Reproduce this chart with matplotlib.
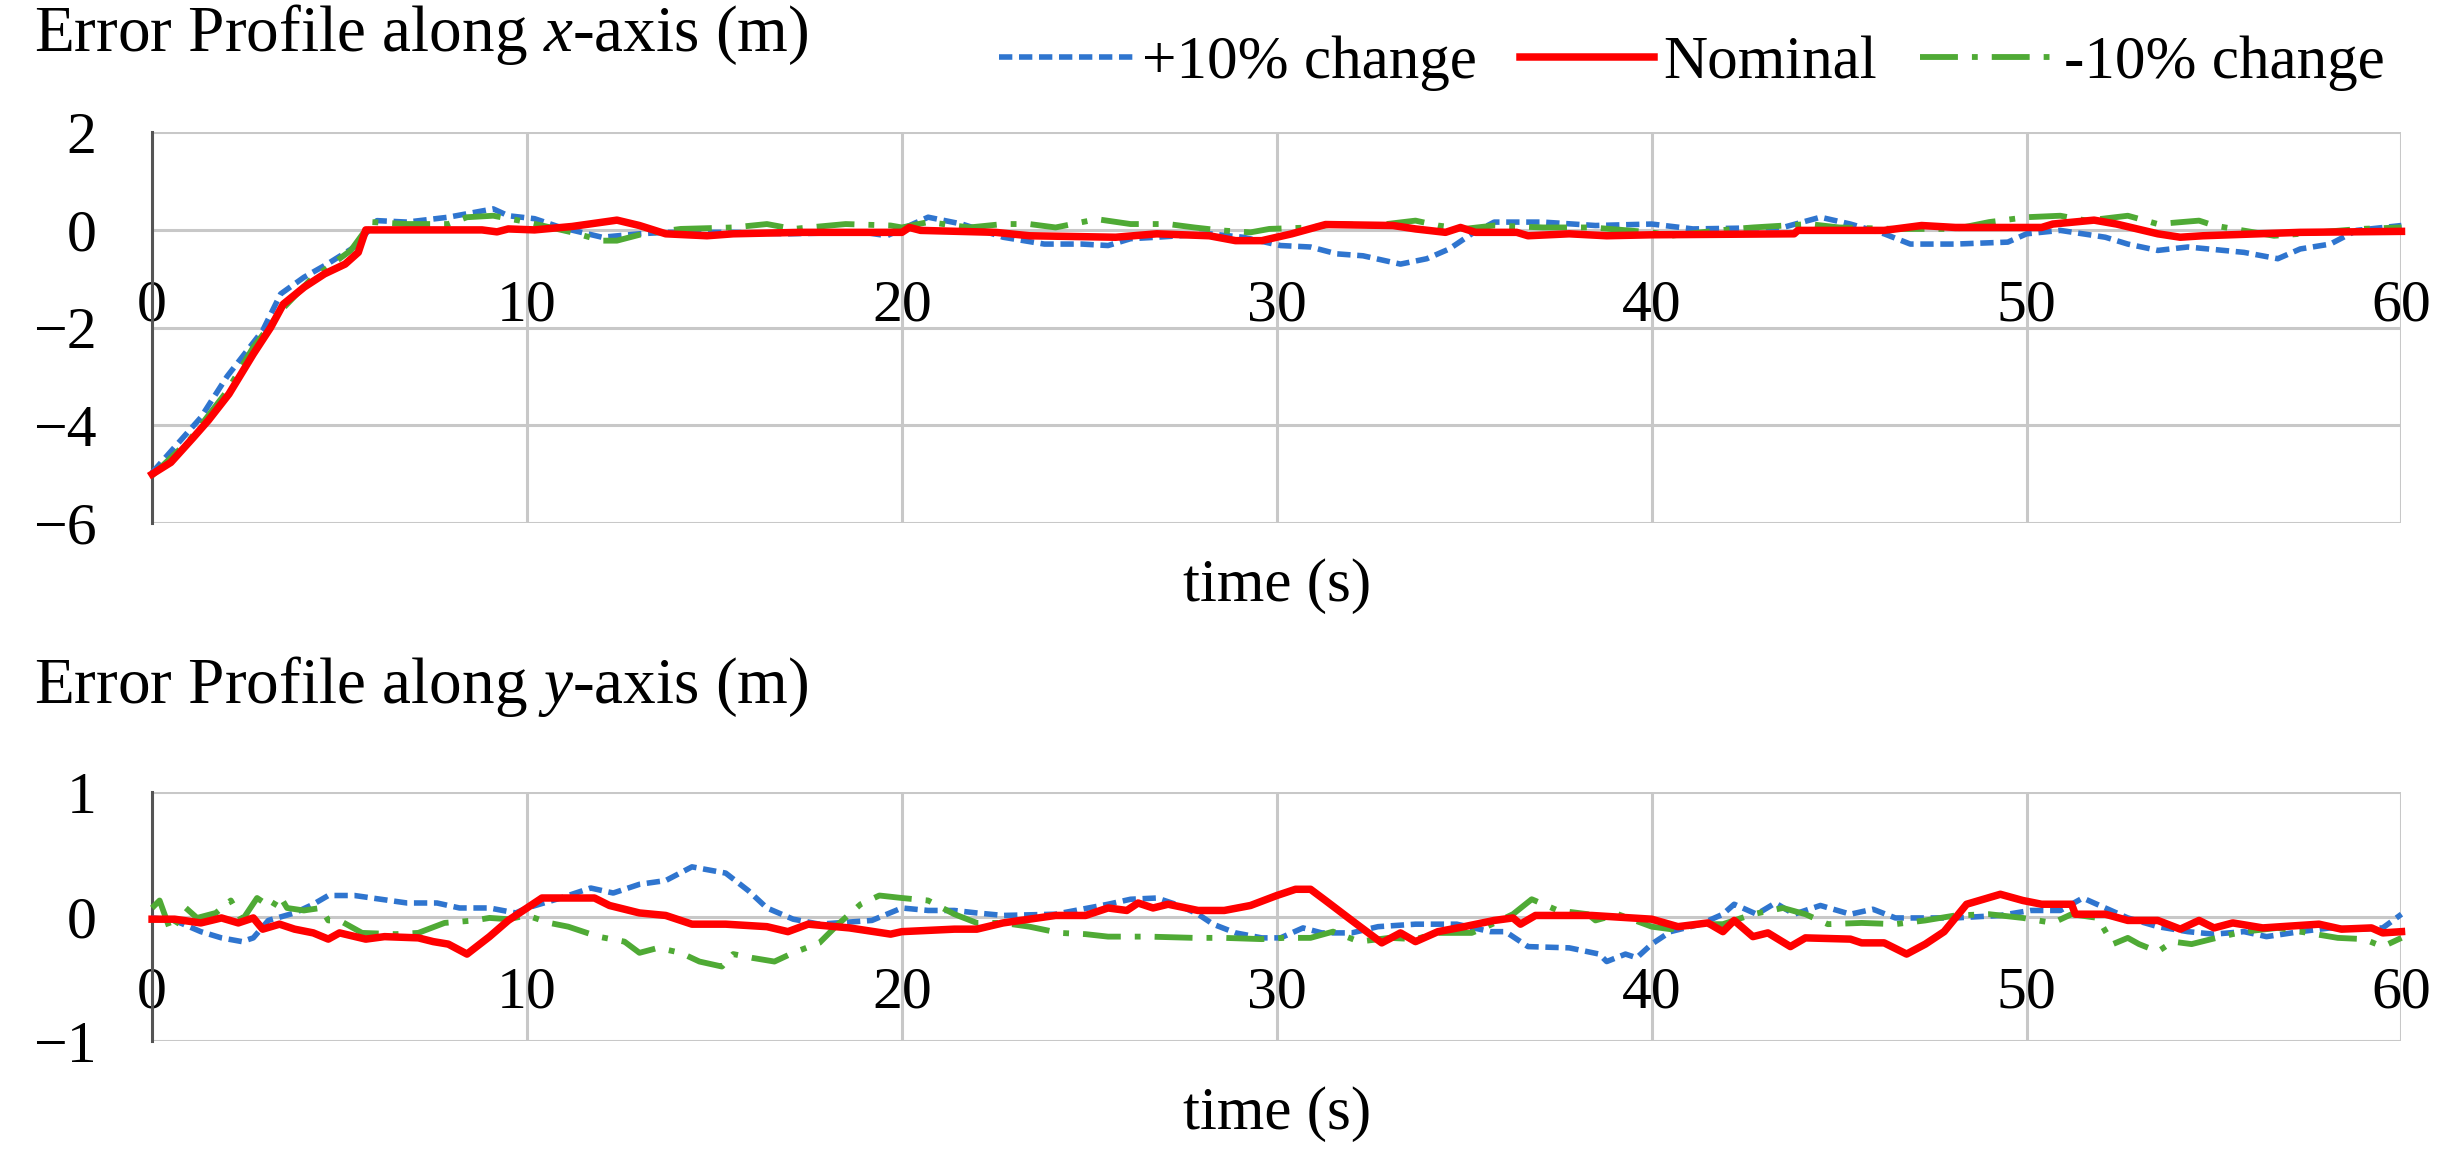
import matplotlib
matplotlib.use("Agg")
import matplotlib.pyplot as plt

plt.rcParams['font.family'] = ['Liberation Serif', 'DejaVu Serif']
plt.rcParams['mathtext.fontset'] = 'custom'
plt.rcParams['mathtext.rm'] = 'Liberation Serif'
plt.rcParams['mathtext.it'] = 'Liberation Serif:italic'

# ---------------- data: x-axis error profile ----------------
x_nom_t = [0, 0.5, 1.1, 1.5, 2.05, 2.7, 3.16, 3.5, 4.06, 4.6, 5.15, 5.5, 5.7, 8.8, 9.2, 9.5, 10.2, 11.2, 12.4, 13.0, 13.7,
           14.8, 15.5, 17.3, 20.0, 20.2, 20.5, 22.5, 23.4, 25.7, 26.8, 28.2, 28.9, 29.6, 30.4, 31.3, 33.1, 33.7, 34.5,
           34.9, 35.3, 36.4, 36.7, 37.8, 38.8, 40.0, 43.8, 43.9, 46.2, 47.2, 48.1, 50.4, 50.7, 51.8, 52.4, 53.5, 54.1,
           54.7, 57.3, 60.0]
x_nom_v = [-5.0, -4.76, -4.25, -3.9, -3.36, -2.54, -2.0, -1.52, -1.17, -0.9, -0.7, -0.46, 0.0, 0.0, -0.04, 0.02, 0.0, 0.07,
           0.2, 0.09, -0.08, -0.12, -0.08, -0.05, -0.05, 0.05, -0.01, -0.05, -0.12, -0.15, -0.08, -0.12, -0.22, -0.22,
           -0.08, 0.11, 0.09, 0.02, -0.05, 0.05, -0.05, -0.05, -0.12, -0.08, -0.12, -0.1, -0.08, -0.01, -0.01, 0.09,
           0.05, 0.05, 0.12, 0.2, 0.12, -0.08, -0.15, -0.12, -0.05, -0.03]

x_plus_t = [0, 1.3, 2.0, 2.95, 3.43, 4.05, 4.67, 5.4, 6.0, 6.8, 7.9, 9.1, 9.5, 10.2, 10.9, 12.0, 13.0, 13.7, 15.5, 16.96,
            19.0, 19.6, 20.7, 21.6, 22.7, 23.8, 24.8, 25.5, 26.1, 26.8, 28.2, 29.1, 30.1, 30.9, 31.6, 32.3, 33.3, 34.0,
            34.6, 35.2, 35.8, 37.1, 38.5, 40.0, 41.1, 43.5, 44.5, 45.3, 46.2, 46.9, 48.1, 49.5, 50.0, 50.9, 51.5, 52.1,
            52.7, 53.5, 54.3, 55.8, 56.7, 57.3, 58.1, 58.8, 60.0]
x_plus_v = [-4.97, -3.84, -3.0, -2.06, -1.31, -0.97, -0.7, -0.35, 0.19, 0.16, 0.26, 0.43, 0.29, 0.23, 0.05, -0.15, -0.08,
            -0.05, -0.05, -0.08, -0.05, -0.12, 0.26, 0.12, -0.15, -0.29, -0.29, -0.32, -0.18, -0.15, -0.08, -0.15, -0.32,
            -0.35, -0.49, -0.53, -0.7, -0.59, -0.39, -0.08, 0.16, 0.16, 0.09, 0.12, 0.02, 0.05, 0.26, 0.12, -0.08, -0.29,
            -0.29, -0.25, -0.08, -0.01, -0.08, -0.15, -0.29, -0.42, -0.35, -0.46, -0.59, -0.39, -0.29, -0.01, 0.09]

x_minus_t = [0, 1.0, 2.0, 2.7, 3.5, 4.2, 5.3, 5.85, 6.8, 7.9, 8.4, 9.1, 9.8, 10.4, 11.2, 12.0, 12.4, 13.1, 14.1, 15.5,
             16.4, 17.1, 18.5, 19.7, 20.0, 20.7, 21.8, 22.7, 23.4, 24.1, 25.2, 26.1, 27.1, 27.8, 28.5, 29.3, 29.8, 30.9,
             31.6, 32.6, 33.7, 34.3, 35.0, 35.8, 37.1, 38.4, 40.0, 40.5, 41.3, 42.2, 42.7, 44.2, 45.0, 46.5, 48.1, 49.0,
             50.0, 50.9, 51.6, 52.7, 53.5, 54.6, 55.0, 56.6, 57.3, 58.9, 60.0]
x_minus_v = [-5.03, -4.3, -3.3, -2.4, -1.6, -1.04, -0.42, 0.16, 0.12, 0.12, 0.26, 0.29, 0.19, 0.09, -0.05, -0.22, -0.22,
             -0.08, 0.02, 0.05, 0.12, 0.02, 0.12, 0.09, 0.05, 0.16, 0.05, 0.12, 0.12, 0.05, 0.22, 0.12, 0.12, 0.05,
             -0.01, -0.05, 0.02, 0.05, 0.12, 0.09, 0.19, 0.09, 0.02, 0.09, 0.05, 0.05, -0.05, -0.12, -0.05, 0.02, 0.05,
             0.12, 0.05, 0.02, 0.02, 0.16, 0.26, 0.29, 0.19, 0.29, 0.12, 0.19, 0.09, -0.12, -0.08, 0.02, 0.05]

# ---------------- data: y-axis error profile ----------------
y_nom_t = [0, 0.6, 1.3, 1.85, 2.3, 2.7, 2.95, 3.4, 3.8, 4.3, 4.7, 5.0, 5.7, 6.2, 7.1, 7.5, 7.9, 8.4, 9.0, 9.5, 10.0, 10.4,
           11.3, 11.8, 12.2, 13.0, 13.7, 14.4, 15.3, 16.4, 16.96, 17.5, 18.6, 19.7, 20.0, 21.4, 22.0, 22.7, 23.4, 24.1,
           24.9, 25.5, 26.0, 26.3, 26.7, 27.1, 27.9, 28.6, 29.3, 30.0, 30.5, 30.9, 31.3, 32.0, 32.8, 33.3, 33.7, 34.3,
           35.0, 35.8, 36.3, 36.5, 36.9, 38.4, 40.0, 40.7, 41.5, 41.9, 42.2, 42.7, 43.1, 43.7, 44.1, 45.3, 45.6, 46.2,
           46.8, 47.3, 47.8, 48.4, 49.3, 49.9, 50.4, 51.2, 51.3, 52.1, 52.7, 53.5, 54.1, 54.6, 55.0, 55.5, 56.3, 57.8,
           58.4, 59.2, 59.5, 60.0]
y_nom_v = [-0.02, -0.02, -0.05, -0.01, -0.05, -0.01, -0.1, -0.06, -0.1, -0.13, -0.18, -0.13, -0.18, -0.16, -0.17, -0.2,
           -0.22, -0.3, -0.16, -0.03, 0.07, 0.15, 0.15, 0.15, 0.09, 0.03, 0.01, -0.06, -0.06, -0.08, -0.12, -0.06, -0.09,
           -0.14, -0.12, -0.1, -0.1, -0.05, -0.02, 0.01, 0.01, 0.07, 0.05, 0.11, 0.07, 0.1, 0.05, 0.05, 0.09, 0.17,
           0.22, 0.22, 0.13, -0.03, -0.21, -0.13, -0.2, -0.12, -0.08, -0.03, -0.01, -0.06, 0.01, 0.01, -0.02, -0.08,
           -0.05, -0.12, -0.03, -0.16, -0.13, -0.24, -0.17, -0.18, -0.21, -0.21, -0.3, -0.22, -0.12, 0.1, 0.18, 0.13,
           0.1, 0.1, 0.02, 0.02, -0.03, -0.03, -0.1, -0.03, -0.09, -0.05, -0.09, -0.06, -0.1, -0.09, -0.13, -0.12]

y_plus_t = [0, 0.6, 1.3, 1.85, 2.4, 2.7, 3.1, 3.8, 4.3, 4.7, 5.4, 6.8, 7.6, 8.2, 9.0, 9.7, 10.0, 10.9, 11.7, 12.3, 13.0,
            13.7, 14.4, 15.3, 15.9, 16.4, 17.1, 17.8, 19.2, 20.0, 20.7, 21.4, 22.0, 22.7, 24.1, 25.5, 26.1, 26.8, 27.4,
            27.9, 28.3, 28.9, 29.6, 30.1, 30.7, 31.2, 32.0, 32.7, 33.7, 34.8, 35.7, 36.1, 36.7, 37.8, 38.6, 38.8, 39.3,
            39.6, 40.0, 40.5, 41.3, 41.9, 42.2, 42.8, 43.3, 43.8, 44.5, 45.3, 45.9, 46.5, 48.1, 49.3, 50.1, 50.9, 51.5,
            52.1, 52.7, 53.5, 54.3, 55.0, 55.8, 56.4, 57.3, 58.1, 58.9, 59.5, 60.0]
y_plus_v = [-0.01, -0.03, -0.12, -0.17, -0.2, -0.17, -0.03, 0.03, 0.1, 0.17, 0.17, 0.11, 0.11, 0.07, 0.07, 0.03, 0.07,
            0.15, 0.23, 0.19, 0.26, 0.29, 0.4, 0.35, 0.21, 0.07, -0.02, -0.06, -0.03, 0.07, 0.05, 0.05, 0.03, 0.01,
            0.02, 0.1, 0.14, 0.15, 0.09, 0.02, -0.06, -0.13, -0.17, -0.17, -0.09, -0.13, -0.13, -0.08, -0.06, -0.06,
            -0.12, -0.12, -0.24, -0.25, -0.3, -0.36, -0.3, -0.33, -0.22, -0.12, -0.06, 0.02, 0.1, 0.02, 0.11, 0.02,
            0.09, 0.02, 0.06, -0.01, -0.01, 0.01, 0.05, 0.05, 0.15, 0.07, -0.01, -0.08, -0.12, -0.14, -0.12, -0.16,
            -0.12, -0.09, -0.1, -0.09, 0.02]

y_minus_t = [0, 0.2, 0.5, 0.9, 1.2, 1.7, 2.1, 2.4, 2.8, 3.2, 3.4, 3.6, 4.05, 4.5, 4.7, 5.0, 5.6, 6.5, 7.1, 7.8, 8.6, 9.0,
             9.5, 10.0, 10.6, 11.1, 11.9, 12.6, 13.0, 13.5, 14.1, 14.6, 15.2, 15.5, 16.0, 16.6, 17.1, 17.8, 18.3, 18.9,
             19.4, 20.0, 20.7, 21.4, 22.0, 22.7, 23.4, 24.2, 24.9, 25.5, 26.6, 27.8, 28.6, 29.6, 30.2, 30.9, 31.5, 32.2,
             33.0, 33.7, 34.3, 35.2, 35.6, 36.3, 36.8, 37.5, 38.3, 38.5, 39.1, 40.0, 40.5, 41.3, 41.9, 42.7, 43.5, 44.1,
             44.7, 45.6, 46.5, 47.3, 48.1, 49.0, 49.9, 50.7, 51.2, 51.9, 52.3, 52.7, 53.0, 53.5, 53.9, 54.4, 55.2, 55.8,
             56.7, 57.3, 58.3, 59.0, 59.5, 60.0]
y_minus_v = [0.07, 0.13, -0.12, 0.07, -0.01, 0.03, 0.13, -0.03, 0.15, 0.07, 0.17, 0.07, 0.05, 0.07, -0.03, -0.03, -0.13,
             -0.14, -0.13, -0.05, -0.03, -0.01, -0.02, 0.01, -0.05, -0.08, -0.16, -0.2, -0.29, -0.25, -0.29, -0.36, -0.4,
             -0.3, -0.33, -0.36, -0.29, -0.21, -0.06, 0.1, 0.17, 0.15, 0.13, 0.02, -0.05, -0.05, -0.08, -0.13, -0.14,
             -0.16, -0.16, -0.17, -0.17, -0.18, -0.17, -0.17, -0.12, -0.2, -0.17, -0.18, -0.13, -0.13, -0.08, 0.02, 0.14,
             0.05, 0.02, -0.03, 0.02, -0.08, -0.1, -0.06, -0.06, 0.02, 0.07, 0.02, -0.06, -0.05, -0.06, -0.03, 0.01,
             0.02, -0.01, -0.05, 0.02, -0.01, -0.22, -0.17, -0.22, -0.28, -0.2, -0.22, -0.16, -0.12, -0.09, -0.12,
             -0.17, -0.18, -0.24, -0.17]

x_ticks = [0, 10, 20, 30, 40, 50, 60]
top_yticks = [-6, -4, -2, 0, 2]
bot_yticks = [-1, 0, 1]
series_labels = ['+10% change', 'Nominal', '-10% change']

# ---------------- styles ----------------
BLUE = '#2F75CF'
RED = '#FF0000'
GREEN = '#4FAA35'
GRID = '#C8C8C8'
FS_TICK = 43
FS_TITLE = 47
FS_LAB = 44

fig = plt.figure(figsize=(24.53, 11.70), dpi=100)
ax1 = fig.add_axes([0.062, 0.553, 0.917, 0.334])
ax2 = fig.add_axes([0.062, 0.110, 0.917, 0.213])


def style(ax, yticks):
    ax.set_xlim(0, 60)
    ax.set_ylim(yticks[0], yticks[-1])
    ax.set_xticks(x_ticks)
    ax.set_yticks(yticks)
    ax.grid(True, color=GRID, linewidth=2.2)
    ax.set_axisbelow(True)
    for s in ['top', 'right']:
        ax.spines[s].set_visible(False)
    # horizontal axis crosses at zero, labels hang below it
    ax.spines['bottom'].set_position(('data', 0))
    ax.spines['bottom'].set_visible(False)
    ax.spines['left'].set_color('#555555')
    ax.spines['left'].set_linewidth(2.2)
    ax.spines['left'].set_zorder(1.5)
    ax.tick_params(axis='y', length=0, pad=40, labelsize=FS_TICK)
    ax.tick_params(axis='x', length=0, pad=36, labelsize=FS_TICK)


style(ax1, top_yticks)
style(ax2, bot_yticks)

lw_b, lw_r, lw_g = 4.0, 5.4, 4.2
dash_b = (0, (2.4, 1.2))
dash_g = (0, (6.5, 2.4, 1.0, 2.4))

for ax, (pt, pv), (nt, nv), (mt, mv) in [
        (ax1, (x_plus_t, x_plus_v), (x_nom_t, x_nom_v), (x_minus_t, x_minus_v)),
        (ax2, (y_plus_t, y_plus_v), (y_nom_t, y_nom_v), (y_minus_t, y_minus_v))]:
    ax.plot(pt, pv, color=BLUE, lw=lw_b, linestyle=dash_b, label=series_labels[0], zorder=3, clip_on=False)
    ax.plot(nt, nv, color=RED, lw=lw_r, linestyle='-', label=series_labels[1], zorder=4, clip_on=False)
    ax.plot(mt, mv, color=GREEN, lw=lw_g, linestyle=dash_g, label=series_labels[2], zorder=3, clip_on=False)

fig.text(0.014, 0.956, 'Error Profile along $x$-axis (m)', fontsize=FS_TITLE, ha='left', va='baseline')
fig.text(0.014, 0.399, 'Error Profile along $y$-axis (m)', fontsize=FS_TITLE, ha='left', va='baseline')
fig.text(0.5205, 0.499, 'time (s)', fontsize=FS_LAB, ha='center', va='center')
fig.text(0.5205, 0.048, 'time (s)', fontsize=FS_LAB, ha='center', va='center')

handles, labels = ax1.get_legend_handles_labels()
fig.legend(handles, labels, loc='center right', bbox_to_anchor=(0.982, 0.946), ncol=3, frameon=False,
           fontsize=FS_LAB, handlelength=2.2, handletextpad=0.15, columnspacing=0.7, borderaxespad=0)

fig.savefig('out.png', dpi=100)
